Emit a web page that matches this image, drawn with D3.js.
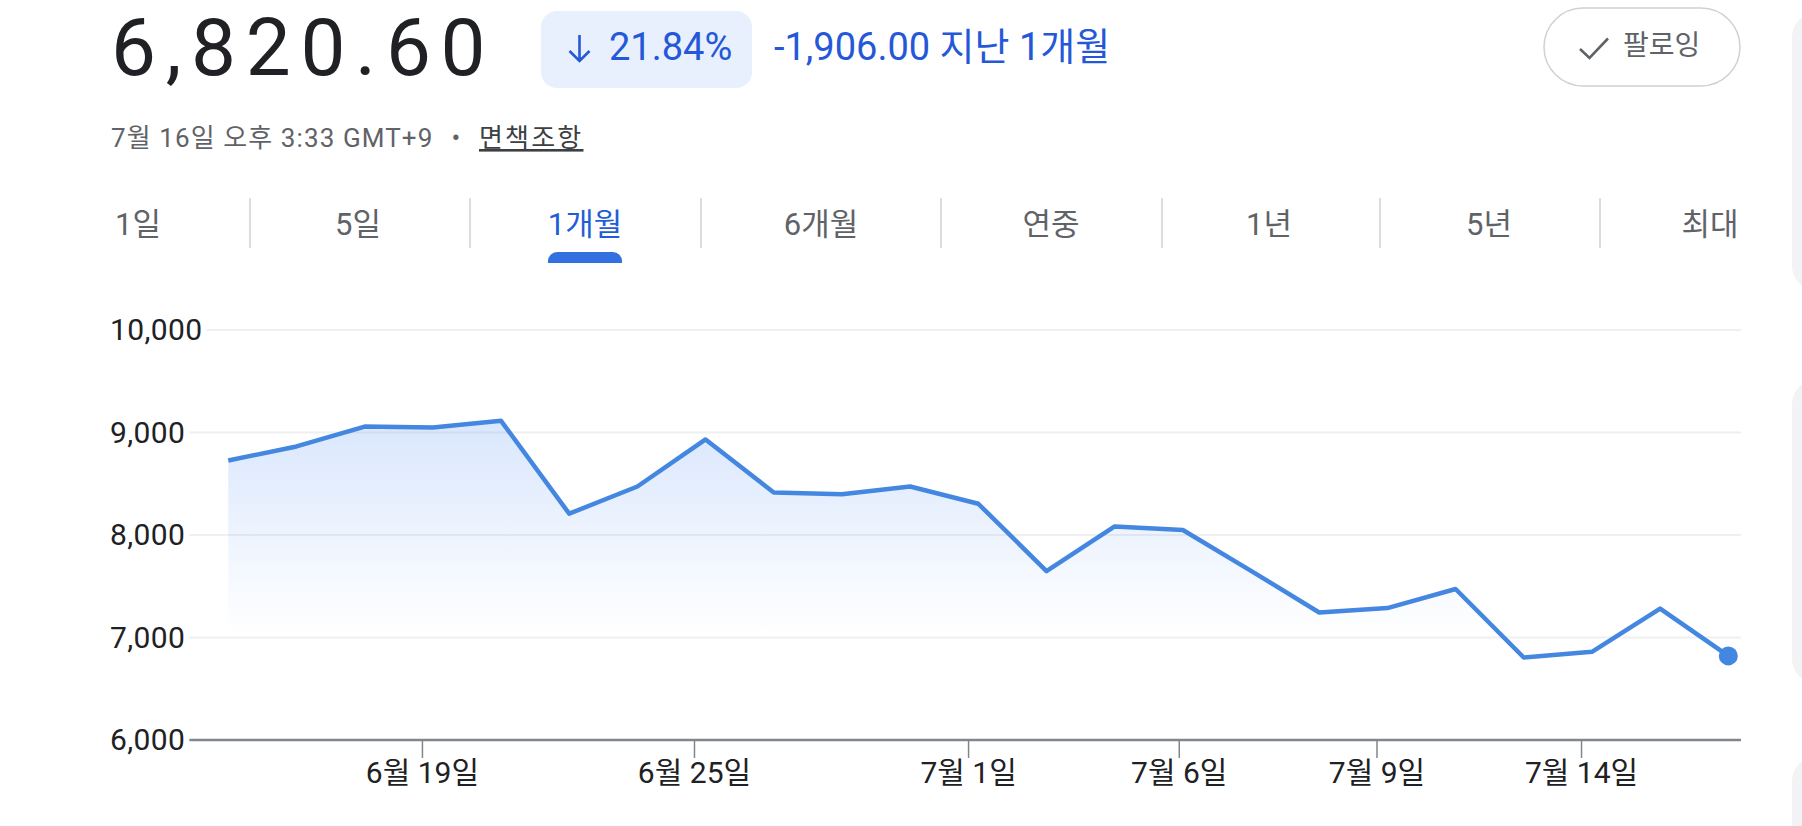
<!DOCTYPE html>
<html>
<head>
<meta charset="utf-8">
<script src="https://cdn.jsdelivr.net/npm/d3@7"></script>
<style>
  body { margin: 0; background: #fff; }
  svg { display: block; }
</style>
</head>
<body>
<script>
// closing values, one per trading day (last = 7월 16일)
const closes = [8726.6, 8864, 9058, 9049, 9114, 8208, 8473, 8932, 8414, 8398, 8473, 8305,
                7648, 8084, 8049, 7650, 7244, 7287, 7473, 6805, 6860, 7282, 6820.6]
const yTicks = [6000, 7000, 8000, 9000, 10000]
// date ticks sit between trading-day indices
const tickIdx = [2.84, 6.83, 10.85, 13.94, 16.84, 19.84]
const tickLabels = ['6월 19일', '6월 25일', '7월 1일', '7월 6일', '7월 9일', '7월 14일']
const tabs = ['1일', '5일', '1개월', '6개월', '연중', '1년', '5년', '최대']
const activeTab = '1개월'

const FONT = "Roboto, 'Noto Sans CJK KR', sans-serif"
const BLUE = '#2458d8'
const LINE = '#4487e0'

const width = 1802, height = 826

const svg = d3.select('body')
  .append('svg')
    .attr('width', width)
    .attr('height', height)
    .style('font-family', FONT)

// ---- right side cards (cut off) ----
svg.selectAll('.card')
  .data([[13, 290], [380, 683], [757, 900]])
  .join('rect')
    .attr('x', 1792).attr('y', d => d[0])
    .attr('width', 60).attr('height', d => d[1] - d[0])
    .attr('rx', 24)
    .attr('fill', '#f1f3f4')

// ---- header ----
const first = closes[0], last = closes[closes.length - 1]
const fmt2 = d3.format(',.2f')

svg.append('text')
    .attr('x', 111).attr('y', 74.5)
    .attr('font-size', 80)
    .attr('letter-spacing', 9.7)
    .attr('fill', '#202124')
    .text(fmt2(last))

svg.append('rect')
    .attr('x', 541).attr('y', 11)
    .attr('width', 211).attr('height', 77)
    .attr('rx', 16)
    .attr('fill', '#e8f0fe')

svg.append('path')
    .attr('d', 'M579.5,35V61M569.5,51L579.5,61L589.5,51')
    .attr('fill', 'none')
    .attr('stroke', BLUE)
    .attr('stroke-width', 2.6)

svg.append('text')
    .attr('x', 609).attr('y', 60)
    .attr('font-size', 38)
    .attr('fill', BLUE)
    .text(d3.format('.2%')((first - last) / first))

svg.append('text')
    .attr('x', 774).attr('y', 60)
    .attr('font-size', 38)
    .attr('fill', BLUE)
    .text(fmt2(last - first).replace('−', '-') + ' 지난 1개월')

// follow button
svg.append('rect')
    .attr('x', 1544).attr('y', 8)
    .attr('width', 196).attr('height', 78)
    .attr('rx', 39)
    .attr('fill', '#fff')
    .attr('stroke', '#cfd1d4')
    .attr('stroke-width', 1.5)

svg.append('path')
    .attr('d', 'M1580,49L1589.5,58L1608,38.5')
    .attr('fill', 'none')
    .attr('stroke', '#5f6368')
    .attr('stroke-width', 2.6)

svg.append('text')
    .attr('x', 1623).attr('y', 55)
    .attr('font-size', 28)
    .attr('fill', '#5f6368')
    .text('팔로잉')

// timestamp line
svg.append('text')
    .attr('x', 111).attr('y', 147)
    .attr('font-size', 26)
    .attr('letter-spacing', 1.1)
    .attr('fill', '#5f6368')
    .text('7월 16일 오후 3:33 GMT+9')

svg.append('text')
    .attr('x', 456).attr('y', 147)
    .attr('text-anchor', 'middle')
    .attr('font-size', 26)
    .attr('fill', '#5f6368')
    .text('•')

svg.append('text')
    .attr('x', 479).attr('y', 147)
    .attr('font-size', 26)
    .attr('letter-spacing', 2.2)
    .attr('fill', '#3c4043')
    .attr('text-decoration', 'underline')
    .text('면책조항')

// ---- range tabs ----
const tabX = [138, 358, 585, 821, 1051, 1269, 1489, 1710]
const sepX = [250, 470, 701, 941, 1162, 1380, 1600]

svg.selectAll('.sep')
  .data(sepX)
  .join('line')
    .attr('x1', d => d).attr('x2', d => d)
    .attr('y1', 198).attr('y2', 248)
    .attr('stroke', '#dadce0')
    .attr('stroke-width', 2)

svg.selectAll('.tab')
  .data(tabs)
  .join('text')
    .attr('x', (d, i) => tabX[i])
    .attr('y', 235)
    .attr('text-anchor', 'middle')
    .attr('font-size', 31)
    .attr('fill', d => d === activeTab ? '#1f5ed8' : '#5f6368')
    .text(d => d)

const ai = tabs.indexOf(activeTab)
svg.append('path')
    .attr('d', `M${tabX[ai] - 37},263V261a9,9 0 0 1 9,-9H${tabX[ai] + 28}a9,9 0 0 1 9,9V263Z`)
    .attr('fill', '#326fe0')

// ---- chart ----
const x = d3.scaleLinear()
  .domain([0, closes.length - 1])
  .range([228.3, 1728.3])

const y = d3.scaleLinear()
  .domain([6000, 10000])
  .range([740, 330])

const plotRight = 1741

// y labels + gridlines
const ylab = svg.selectAll('.ylab')
  .data(yTicks)
  .join('text')
    .attr('x', 110)
    .attr('y', d => y(d) + 10)
    .attr('font-size', 30)
    .attr('letter-spacing', 0.4)
    .attr('fill', '#202124')
    .text(d => d3.format(',')(d))

ylab.each(function (d) {
  const bb = this.getBBox()
  svg.insert('line', 'text')
      .attr('x1', bb.x + bb.width + 4)
      .attr('x2', plotRight)
      .attr('y1', y(d)).attr('y2', y(d))
      .attr('stroke', d === 6000 ? '#80868b' : '#f0f0f0')
      .attr('stroke-width', d === 6000 ? 2.5 : 2)
})

// area gradient
const grad = svg.append('defs')
  .append('linearGradient')
    .attr('id', 'fade')
    .attr('gradientUnits', 'userSpaceOnUse')
    .attr('x1', 0).attr('x2', 0)
    .attr('y1', y(d3.max(closes))).attr('y2', y(7000) - 4)
grad.append('stop').attr('offset', 0).attr('stop-color', '#4285f4').attr('stop-opacity', 0.2)
grad.append('stop').attr('offset', 1).attr('stop-color', '#4285f4').attr('stop-opacity', 0)

svg.append('path')
    .datum(closes)
    .attr('d', d3.area()
      .x((d, i) => x(i))
      .y0(y(6000))
      .y1(d => y(d)))
    .attr('fill', 'url(#fade)')

svg.append('path')
    .datum(closes)
    .attr('d', d3.line()
      .x((d, i) => x(i))
      .y(d => y(d)))
    .attr('fill', 'none')
    .attr('stroke', LINE)
    .attr('stroke-width', 4.5)
    .attr('stroke-linejoin', 'round')

svg.append('circle')
    .attr('cx', x(closes.length - 1))
    .attr('cy', y(last))
    .attr('r', 9.5)
    .attr('fill', LINE)

// x axis
const xAxis = svg.append('g')
    .attr('transform', `translate(0,${y(6000)})`)
    .call(d3.axisBottom(x)
      .tickValues(tickIdx)
      .tickFormat((d, i) => tickLabels[i])
      .tickSize(18)
      .tickSizeOuter(0))

xAxis.select('.domain').remove()
xAxis.selectAll('.tick line')
    .attr('stroke', '#80868b')
    .attr('stroke-width', 1.5)
xAxis.selectAll('.tick text')
    .attr('y', 43)
    .attr('dy', 0)
    .attr('font-size', 30)
    .attr('font-family', FONT)
    .attr('fill', '#202124')
</script>
</body>
</html>
